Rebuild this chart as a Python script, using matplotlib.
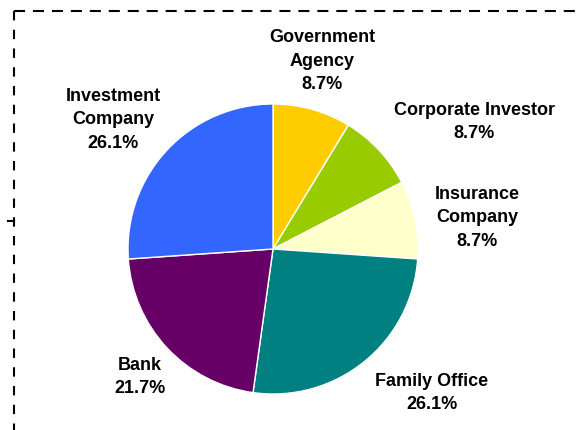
import matplotlib

matplotlib.use("Agg")
import matplotlib.pyplot as plt
from matplotlib.lines import Line2D

categories = ["Government\nAgency", "Corporate Investor", "Insurance\nCompany",
              "Family Office", "Bank", "Investment\nCompany"]
shares = [8.7, 8.7, 8.7, 26.1, 21.7, 26.1]
colors = ["#FFCC00", "#99CC00", "#FFFFCC", "#008080", "#660066", "#3366FF"]

# label centres in pixels (x, y from top)
label_px = [(322, 61), (474, 122), (477, 218), (432, 393), (140, 377), (113, 120)]

W, H = 577, 431
CX, CY, R = 273, 250, 145

fig = plt.figure(figsize=(W / 100, H / 100), dpi=100)
ax = fig.add_axes([0, 0, 1, 1])

ax.pie(shares, colors=colors, startangle=90, counterclock=False, radius=1,
       wedgeprops={"edgecolor": "white", "linewidth": 1.0})

ax.set_xlim(-CX / R, (W - CX) / R)
ax.set_ylim(-(H - CY) / R, CY / R)
ax.set_aspect("equal")
ax.axis("off")

for name, value, (px, py) in zip(categories, shares, label_px):
    ax.text((px - CX) / R, (CY - py) / R, f"{name}\n{value:.1f}%",
            ha="center", va="center", fontsize=13, fontweight="bold",
            family="Liberation Sans", linespacing=1.5)

# dashed frame (top and left), in pixel coordinates
def px_line(xs, ys, **kw):
    fig.add_artist(Line2D([x / W for x in xs], [1 - y / H for y in ys],
                          transform=fig.transFigure, color="black", **kw))

px_line([14, W], [12, 12], lw=1.5, dashes=(5.3, 3.8))
px_line([14, 14], [12, H], lw=1.5, dashes=(4.5, 4.5))
px_line([8, 14], [222, 222], lw=1.5)

fig.savefig("out.png", dpi=100)
